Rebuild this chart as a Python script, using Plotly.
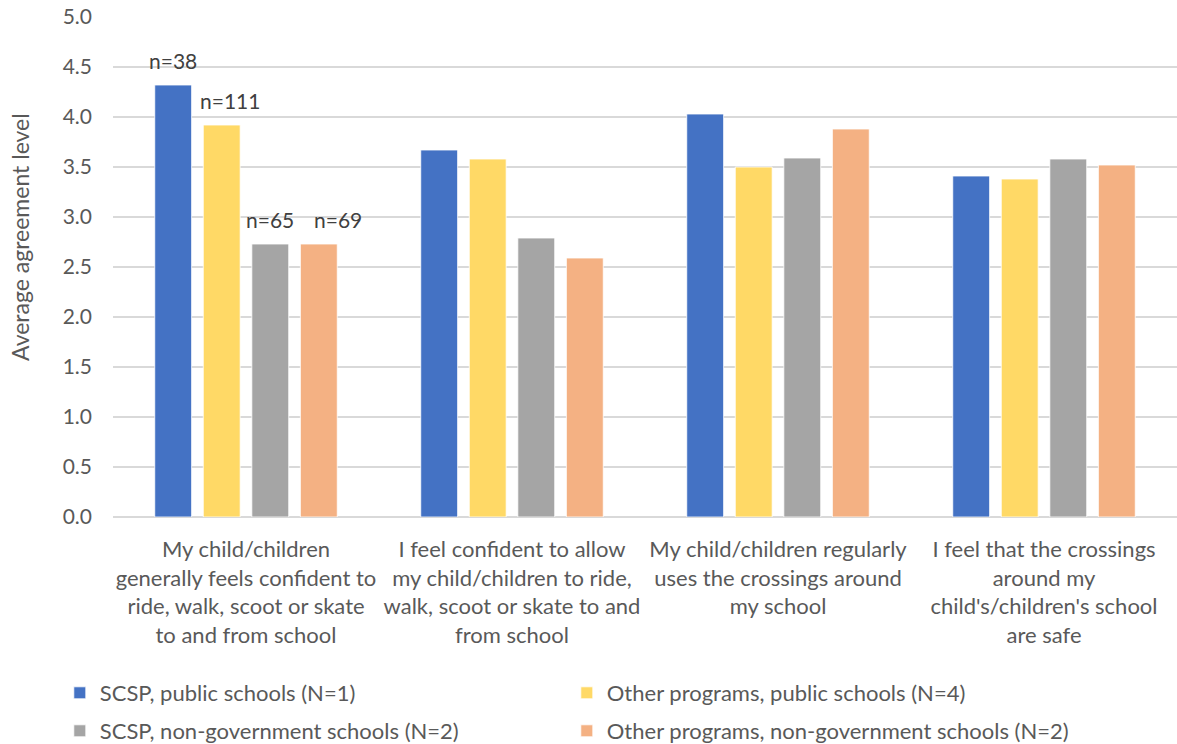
import plotly.graph_objects as go

# Survey statements (x categories)
categories = [
    "My child/children<br>generally feels confident to<br>ride, walk, scoot or skate<br>to and from school",
    "I feel confident to allow<br>my child/children to ride,<br>walk, scoot or skate to and<br>from school",
    "My child/children regularly<br>uses the crossings around<br>my school",
    "I feel that the crossings<br>around my<br>child's/children's school<br>are safe",
]

# Average agreement per group of schools
scsp_public = [4.32, 3.67, 4.03, 3.41]
other_public = [3.92, 3.58, 3.50, 3.38]
scsp_nongov = [2.73, 2.79, 3.59, 3.58]
other_nongov = [2.73, 2.59, 3.88, 3.52]

series_names = [
    "SCSP, public schools (N=1)",
    "Other programs, public schools (N=4)",
    "SCSP, non-government schools (N=2)",
    "Other programs, non-government schools (N=2)",
]
series_values = [scsp_public, other_public, scsp_nongov, other_nongov]
series_colors = ["#4472C4", "#FFD966", "#A5A5A5", "#F4B183"]
# two legend rows, two entries each
series_legend = ["legend", "legend", "legend2", "legend2"]

# Respondent counts shown above the first group of bars
sample_sizes = ["n=38", "n=111", "n=65", "n=69"]
label_nudges = [0, 8, 0, 19]

font_family = "Lato, Calibri, Carlito, sans-serif"
text_color = "#595959"

fig = go.Figure()
for name, vals, col, lg in zip(series_names, series_values, series_colors, series_legend):
    fig.add_trace(go.Bar(
        x=list(range(len(categories))), y=vals, name=name, legend=lg,
        marker=dict(color=col, line=dict(color="white", width=0.8)),
    ))

bargap = 0.27
n_series = len(series_values)
group_w = 1 - bargap
for i, (lab, vals) in enumerate(zip(sample_sizes, series_values)):
    offset = -group_w / 2 + group_w / n_series * (i + 0.5)
    fig.add_annotation(
        x=0 + offset, y=vals[0], xref="x", yref="y", text=lab,
        showarrow=False, yshift=25, xshift=label_nudges[i],
        font=dict(size=21, color="#404040", family=font_family),
    )

# y-axis title, placed by hand so it sits slightly above the plot centre
fig.add_annotation(
    text="Average agreement level", textangle=-90,
    xref="paper", yref="paper", x=-0.0874, y=0.56,
    xanchor="center", yanchor="middle", showarrow=False,
    font=dict(size=23, color=text_color, family=font_family),
)

legend_style = dict(
    orientation="h", x=-0.05, xanchor="left", yanchor="middle",
    entrywidth=462, entrywidthmode="pixels",
    font=dict(size=22, color=text_color, family=font_family),
    itemwidth=30, traceorder="normal",
)

fig.update_layout(
    width=1177, height=744,
    margin=dict(l=113, r=0, t=17, b=227, autoexpand=False),
    paper_bgcolor="white", plot_bgcolor="white",
    barmode="group", bargap=bargap, bargroupgap=0.24,
    font=dict(family=font_family, color=text_color, size=22),
    showlegend=True,
    legend=dict(y=-0.352, **legend_style),
    legend2=dict(y=-0.428, **legend_style),
    xaxis=dict(
        tickmode="array", tickvals=list(range(len(categories))), ticktext=categories,
        range=[-0.5, len(categories) - 0.5], automargin=False,
        showgrid=False, zeroline=False, showline=False, ticks="",
        ticklabelstandoff=17,
        tickfont=dict(size=22, color=text_color),
    ),
    yaxis=dict(
        range=[0, 5.0], dtick=0.5, tickformat=".1f", automargin=False,
        showgrid=True, gridcolor="#D9D9D9", gridwidth=1.5,
        zeroline=True, zerolinecolor="#D9D9D9", zerolinewidth=1.5,
        showline=False, ticks="", ticklabelstandoff=20,
        tickfont=dict(size=21, color=text_color),
    ),
)

fig.write_html("out.html")
